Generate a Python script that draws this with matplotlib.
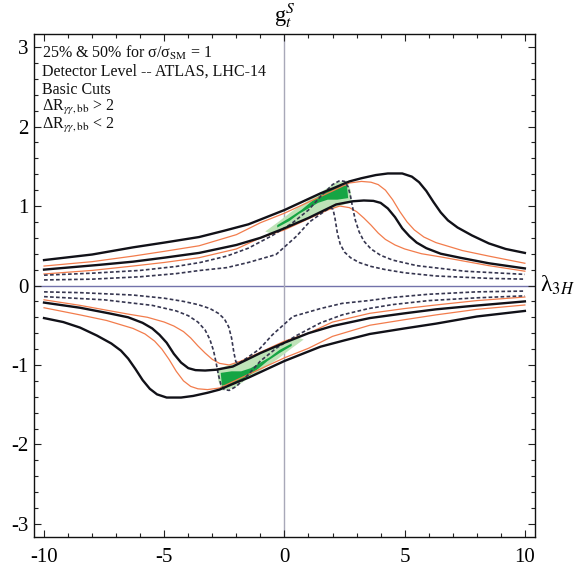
import matplotlib
matplotlib.use("Agg")
import matplotlib.pyplot as plt
from matplotlib.ticker import MultipleLocator

plt.rcParams['font.family'] = ['Liberation Serif', 'DejaVu Serif']
plt.rcParams['mathtext.fontset'] = 'stix'

# ---------------- data ----------------
# upper branch (g_t^S > 0)
bo_up_x = [-10, -8, -6.3, -5, -3.55, -2.5, -1.5, -1, -0.5, 0, 0.5, 1, 1.5, 2, 2.7, 3.2, 3.8, 4.3, 4.9, 5.3, 5.6, 5.9, 6.2, 6.5, 6.8, 7.2, 7.8, 8.5, 9.2, 10]
bo_up_y = [0.32, 0.39, 0.48, 0.54, 0.61, 0.69, 0.77, 0.83, 0.89, 0.95, 1.02, 1.09, 1.16, 1.22, 1.31, 1.35, 1.39, 1.41, 1.41, 1.37, 1.30, 1.19, 1.05, 0.92, 0.82, 0.73, 0.63, 0.53, 0.46, 0.41]
bi_up_x = [-10, -7.7, -6.3, -5, -3.55, -2, -1, 0, 1, 2.15, 2.84, 3.3, 3.7, 4.0, 4.3, 4.6, 4.9, 5.2, 5.5, 5.9, 6.5, 7.3, 8.5, 10]
bi_up_y = [0.20, 0.26, 0.30, 0.35, 0.41, 0.51, 0.60, 0.72, 0.85, 1.02, 1.06, 1.07, 1.065, 1.04, 0.97, 0.86, 0.72, 0.62, 0.54, 0.47, 0.40, 0.35, 0.28, 0.215]
oo_up_x = [-10, -8, -6.3, -5, -3.55, -2, -1, 0, 1, 2, 2.7, 3.2, 3.6, 3.9, 4.2, 4.5, 4.8, 5.1, 5.4, 5.8, 6.3, 7.4, 8.5, 10]
oo_up_y = [0.245, 0.30, 0.37, 0.43, 0.50, 0.64, 0.79, 0.91, 1.05, 1.19, 1.29, 1.31, 1.30, 1.27, 1.20, 1.08, 0.93, 0.80, 0.70, 0.61, 0.54, 0.44, 0.37, 0.28]
oi_up_x = [-10, -8, -6.3, -5, -3.55, -2, -1, 0, 1, 1.8, 2.3, 2.7, 3.0, 3.3, 3.6, 3.9, 4.2, 4.6, 5.0, 5.7, 6.5, 8.5, 10]
oi_up_y = [0.145, 0.19, 0.245, 0.29, 0.35, 0.46, 0.60, 0.70, 0.84, 0.95, 1.00, 0.98, 0.93, 0.85, 0.76, 0.66, 0.58, 0.51, 0.46, 0.40, 0.36, 0.25, 0.18]
d1_up_x = [-10, -8, -6, -4.5, -3.5, -2.4, -1.5, -0.5, 0.3, 1.0, 1.5, 2.0, 2.3, 2.5, 2.65, 2.75, 2.85, 2.95, 3.1, 3.3, 3.6, 4.0, 4.5, 5.5, 7.5, 10]
d1_up_y = [0.13, 0.155, 0.19, 0.24, 0.29, 0.37, 0.47, 0.63, 0.78, 0.95, 1.12, 1.27, 1.32, 1.31, 1.24, 1.12, 0.96, 0.82, 0.68, 0.56, 0.46, 0.38, 0.32, 0.25, 0.18, 0.14]
d2_up_x = [-10, -8, -6, -4.5, -3.5, -2.4, -1.5, -0.35, 0.5, 1.04, 1.6, 1.9, 2.02, 2.1, 2.2, 2.32, 2.5, 2.75, 3.1, 3.6, 4.2, 5, 6.3, 8.5, 10]
d2_up_y = [0.07, 0.08, 0.11, 0.15, 0.19, 0.225, 0.29, 0.39, 0.62, 0.80, 0.92, 0.98, 0.96, 0.85, 0.66, 0.52, 0.42, 0.35, 0.29, 0.24, 0.20, 0.16, 0.12, 0.09, 0.08]
gl_up_x = [-0.8, -0.3, 0.3, 1.0, 1.5, 2.1, 2.6, 2.75, 2.8, 2.2, 1.5, 0.7, 0.0, -0.5]
gl_up_y = [0.68, 0.79, 0.93, 1.07, 1.17, 1.29, 1.32, 1.2, 1.05, 0.99, 0.92, 0.81, 0.71, 0.65]
gd_up_x = [-0.3, 0.2, 0.7, 1.1, 1.5, 1.9, 2.3, 2.6, 2.65, 2.2, 1.8, 1.4, 1.0, 0.6, 0.2, -0.3]
gd_up_y = [0.76, 0.85, 0.95, 1.05, 1.14, 1.21, 1.25, 1.26, 1.10, 1.08, 1.08, 1.04, 0.97, 0.90, 0.81, 0.73]

# lower branch (g_t^S < 0)
bo_lo_x = [-10, -9.2, -8.5, -7.8, -7.2, -6.8, -6.5, -6.2, -5.9, -5.6, -5.3, -4.9, -4.3, -3.8, -3.2, -2.7, -2, -1.5, -1, -0.5, 0, 0.5, 1, 1.5, 2.5, 3.55, 5, 6.3, 8, 10]
bo_lo_y = [-0.41, -0.46, -0.53, -0.63, -0.73, -0.82, -0.92, -1.05, -1.19, -1.30, -1.37, -1.41, -1.41, -1.39, -1.35, -1.31, -1.22, -1.16, -1.09, -1.02, -0.95, -0.89, -0.83, -0.77, -0.69, -0.61, -0.54, -0.48, -0.39, -0.32]
bi_lo_x = [-10, -8.5, -7.3, -6.5, -5.9, -5.5, -5.2, -4.9, -4.6, -4.3, -4.0, -3.7, -3.3, -2.84, -2.15, -1, 0, 1, 2, 3.55, 5, 6.3, 7.7, 10]
bi_lo_y = [-0.215, -0.28, -0.35, -0.40, -0.47, -0.54, -0.62, -0.72, -0.86, -0.97, -1.04, -1.065, -1.07, -1.06, -1.02, -0.85, -0.72, -0.60, -0.51, -0.41, -0.35, -0.30, -0.26, -0.20]
oo_lo_x = [-10, -8.5, -7.4, -6.3, -5.8, -5.4, -5.1, -4.8, -4.5, -4.2, -3.9, -3.6, -3.2, -2.7, -2, -1, 0, 1, 2, 3.55, 5, 6.3, 8, 10]
oo_lo_y = [-0.28, -0.37, -0.44, -0.54, -0.61, -0.70, -0.80, -0.93, -1.08, -1.20, -1.27, -1.30, -1.31, -1.29, -1.19, -1.05, -0.91, -0.79, -0.64, -0.50, -0.43, -0.37, -0.30, -0.245]
oi_lo_x = [-10, -8.5, -6.5, -5.7, -5.0, -4.6, -4.2, -3.9, -3.6, -3.3, -3.0, -2.7, -2.3, -1.8, -1, 0, 1, 2, 3.55, 5, 6.3, 8, 10]
oi_lo_y = [-0.18, -0.25, -0.36, -0.40, -0.46, -0.51, -0.58, -0.66, -0.76, -0.85, -0.93, -0.98, -1.00, -0.95, -0.84, -0.70, -0.60, -0.46, -0.35, -0.29, -0.245, -0.19, -0.145]
d1_lo_x = [-10, -7.5, -5.5, -4.5, -4.0, -3.6, -3.3, -3.1, -2.95, -2.85, -2.75, -2.65, -2.5, -2.3, -2.0, -1.5, -1.0, -0.3, 0.5, 1.5, 2.4, 3.5, 4.5, 6, 8, 10]
d1_lo_y = [-0.14, -0.18, -0.25, -0.32, -0.38, -0.46, -0.56, -0.68, -0.82, -0.96, -1.12, -1.24, -1.31, -1.32, -1.27, -1.12, -0.95, -0.78, -0.63, -0.47, -0.37, -0.29, -0.24, -0.19, -0.155, -0.13]
d2_lo_x = [-10, -8.5, -6.3, -5, -4.2, -3.6, -3.1, -2.75, -2.5, -2.32, -2.2, -2.1, -2.02, -1.9, -1.6, -1.04, -0.5, 0.35, 1.5, 2.4, 3.5, 4.5, 6, 8, 10]
d2_lo_y = [-0.08, -0.09, -0.12, -0.16, -0.20, -0.24, -0.29, -0.35, -0.42, -0.52, -0.66, -0.85, -0.96, -0.98, -0.92, -0.80, -0.62, -0.39, -0.29, -0.225, -0.19, -0.15, -0.11, -0.08, -0.07]
gl_lo_x = [0.8, 0.3, -0.3, -1.0, -1.5, -2.1, -2.6, -2.75, -2.8, -2.2, -1.5, -0.7, 0.0, 0.5]
gl_lo_y = [-0.68, -0.79, -0.93, -1.07, -1.17, -1.29, -1.32, -1.2, -1.05, -0.99, -0.92, -0.81, -0.71, -0.65]
gd_lo_x = [0.3, -0.2, -0.7, -1.1, -1.5, -1.9, -2.3, -2.6, -2.65, -2.2, -1.8, -1.4, -1.0, -0.6, -0.2, 0.3]
gd_lo_y = [-0.76, -0.85, -0.95, -1.05, -1.14, -1.21, -1.25, -1.26, -1.10, -1.08, -1.08, -1.04, -0.97, -0.90, -0.81, -0.73]

x_ticks = [-10, -5, 0, 5, 10]
y_ticks = [-3, -2, -1, 0, 1, 2, 3]

info_lines = [
    r'25% & 50% for σ/σ$_{\rm SM}$ = 1',
    'Detector Level -- ATLAS, LHC-14',
    'Basic Cuts',
    r'ΔR$_{\gamma\gamma,\rm bb}$ > 2',
    r'ΔR$_{\gamma\gamma,\rm bb}$ < 2',
]

# ---------------- figure ----------------
fig = plt.figure(figsize=(5.74, 5.68), dpi=100)
ax = fig.add_axes([0.0587, 0.0546, 0.8733, 0.8855])
ax.set_xlim(-10.43, 10.42)
ax.set_ylim(-3.165, 3.165)

ax.axhline(0, color='#7272aa', lw=1.0, zorder=1)
ax.axvline(0, color='#a8a8b8', lw=1.0, zorder=1)

light_green = '#bfe3b8'
dark_green = '#16a544'
ax.fill(gl_up_x, gl_up_y, color=light_green, lw=0, zorder=2)
ax.fill(gl_lo_x, gl_lo_y, color=light_green, lw=0, zorder=2)
ax.fill(gd_up_x, gd_up_y, color=dark_green, lw=0, zorder=3)
ax.fill(gd_lo_x, gd_lo_y, color=dark_green, lw=0, zorder=3)

black_kw = dict(color='#111118', lw=1.7, zorder=5, solid_joinstyle='round')
orange_kw = dict(color='#f27c4c', lw=0.9, zorder=4, solid_joinstyle='round')
dash_kw = dict(color='#363650', lw=1.2, ls=(0, (2.2, 1.4)), zorder=4)

ax.plot(bo_up_x, bo_up_y, **black_kw)
ax.plot(bi_up_x, bi_up_y, **black_kw)
ax.plot(bo_lo_x, bo_lo_y, **black_kw)
ax.plot(bi_lo_x, bi_lo_y, **black_kw)
ax.plot(oo_up_x, oo_up_y, **orange_kw)
ax.plot(oi_up_x, oi_up_y, **orange_kw)
ax.plot(oo_lo_x, oo_lo_y, **orange_kw)
ax.plot(oi_lo_x, oi_lo_y, **orange_kw)
ax.plot(d1_up_x, d1_up_y, **dash_kw)
ax.plot(d2_up_x, d2_up_y, **dash_kw)
ax.plot(d1_lo_x, d1_lo_y, **dash_kw)
ax.plot(d2_lo_x, d2_lo_y, **dash_kw)

ax.set_xticks(x_ticks)
ax.set_xticklabels([str(v) for v in x_ticks])
ax.set_yticks(y_ticks)
ax.set_yticklabels([str(v) for v in y_ticks])
ax.xaxis.set_minor_locator(MultipleLocator(1))
ax.yaxis.set_minor_locator(MultipleLocator(0.2))
ax.tick_params(which='both', direction='in', top=True, right=True,
               labelsize=15, width=0.8, color='#222222')
ax.tick_params(which='major', length=5)
ax.tick_params(which='minor', length=3)
ax.tick_params(axis='x', pad=8)
ax.tick_params(axis='y', pad=4)
for s in ax.spines.values():
    s.set_linewidth(1.0)
    s.set_color('#111111')

for i, line in enumerate(info_lines):
    ax.text(0.017, 0.9517 - i * 0.035, line, transform=ax.transAxes,
            fontsize=11.5, va='baseline', ha='left', color='#111111')

fig.text(285 / 574, 1 - 22 / 568, r'g$^{S}_{t}$', ha='center', va='baseline', fontsize=16)
ax.text(1.01, 0, r'λ$_{3H}$', transform=ax.get_yaxis_transform(),
        ha='left', va='center', fontsize=17)

fig.savefig('out.png', dpi=100)
